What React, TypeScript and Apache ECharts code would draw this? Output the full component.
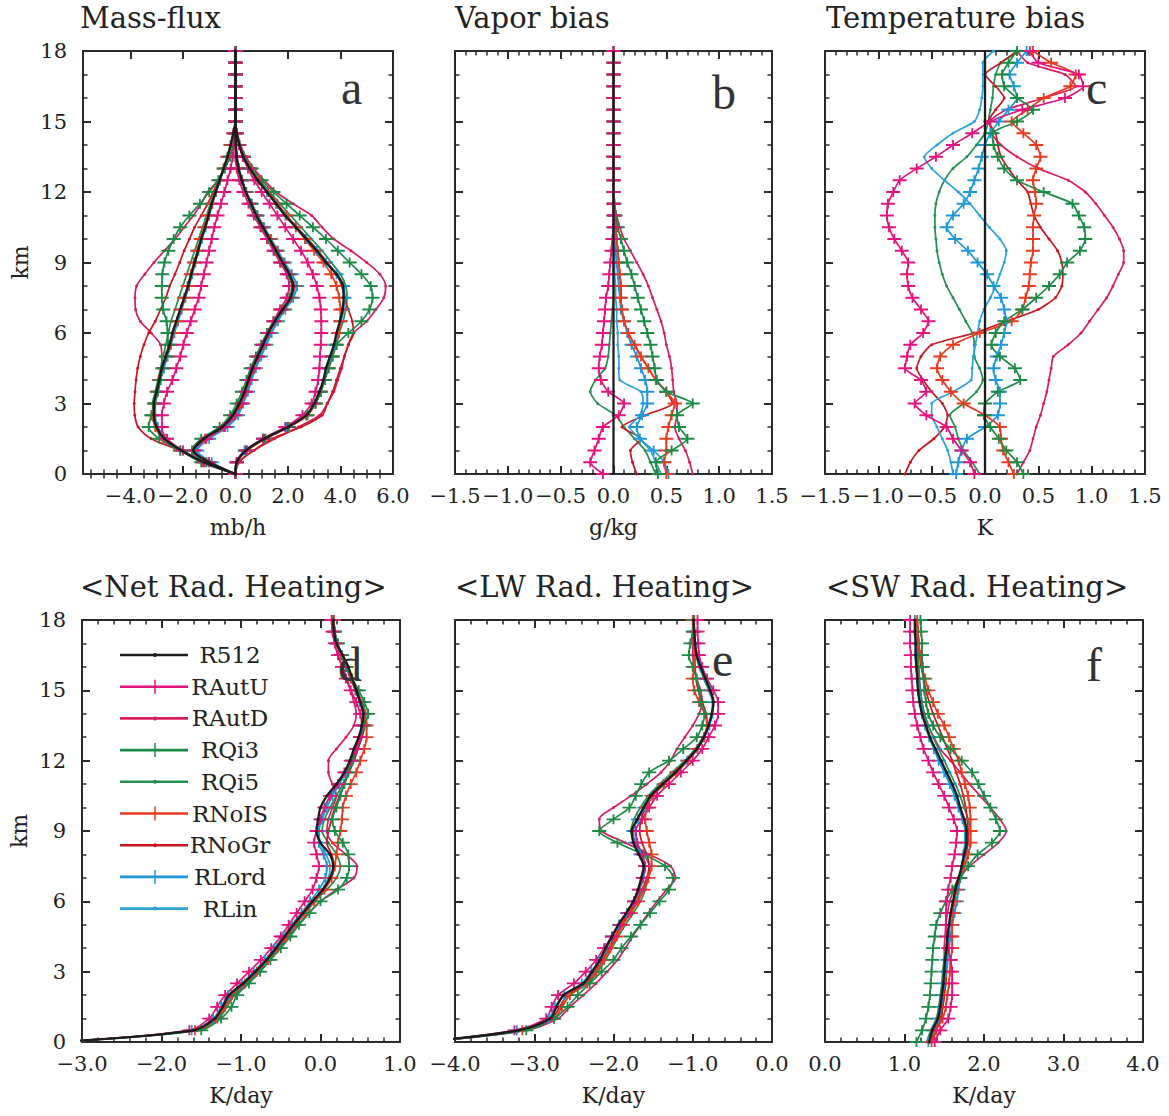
import React, { useEffect, useRef } from 'react';
import * as echarts from 'echarts';

// ---------- heights (km) ----------
const KM = [0,0.5,1,1.5,2,2.5,3,3.5,4,4.5,5,5.5,6,6.5,7,7.5,8,8.5,9,9.5,10,10.5,11,11.5,12,12.5,13,13.5,14,14.5,15,15.5,16,16.5,17,17.5,18];

const SERIES_NAMES = ['R512','RAutU','RAutD','RQi3','RQi5','RNoIS','RNoGr','RLord','RLin'];
const SERIES_COLORS = ['#1c1c1c','#e2137c','#d61f5e','#1b8a47','#24904f','#ea3a1f','#c8171f','#1e97d7','#2ba2de'];
const SERIES_PLUS = [false,true,false,true,false,true,false,true,false];

// ---------- (a) Mass-flux, mb/h : updraft branch ----------
const upR512 = [0,0.05,0.4,1.1,2.0,2.7,3.0,3.2,3.35,3.45,3.6,3.75,3.85,3.98,4.08,4.12,4.1,3.85,3.45,3.1,2.7,2.3,1.9,1.55,1.2,0.85,0.55,0.3,0.15,0.05,0,0,0,0,0,0,0];
const upRAutU = [0,0.05,0.4,1.05,1.9,2.55,2.9,3.05,3.15,3.2,3.22,3.25,3.27,3.27,3.25,3.2,3.1,2.95,2.75,2.5,2.2,1.9,1.6,1.3,1.0,0.72,0.48,0.28,0.13,0.05,0,0,0,0,0,0,0];
const upRAutD = [0,0.15,0.7,1.5,2.4,3.2,3.5,3.75,3.9,4.05,4.15,4.3,4.5,5.0,5.35,5.65,5.72,5.5,5.0,4.4,3.75,3.3,2.9,2.2,1.55,1.1,0.7,0.4,0.2,0.08,0,0,0,0,0,0,0];
const upRQi3 = [0,0.05,0.4,1.1,2.0,2.7,3.05,3.25,3.4,3.55,3.7,3.85,4.3,4.8,5.1,5.22,5.15,4.8,4.35,3.9,3.45,2.95,2.45,1.95,1.45,1.0,0.62,0.32,0.15,0.05,0,0,0,0,0,0,0];
const upRQi5 = [0,0.05,0.4,1.1,2.0,2.7,3.0,3.2,3.35,3.5,3.65,3.8,3.95,4.1,4.2,4.25,4.2,4.0,3.65,3.3,2.9,2.5,2.1,1.7,1.3,0.95,0.62,0.35,0.17,0.06,0,0,0,0,0,0,0];
const upRNoIS = [0,0.05,0.45,1.15,2.05,2.75,3.05,3.25,3.4,3.55,3.7,3.85,3.95,4.0,4.0,3.95,3.85,3.65,3.35,3.0,2.65,2.3,1.95,1.6,1.25,0.9,0.58,0.33,0.15,0.05,0,0,0,0,0,0,0];
const upRNoGr = [0,0.1,0.7,1.4,2.5,3.3,3.5,3.7,3.85,4.0,4.15,4.3,4.5,4.45,4.3,4.15,4.05,3.85,3.5,3.15,2.75,2.35,1.95,1.6,1.25,0.9,0.58,0.32,0.15,0.05,0,0,0,0,0,0,0];
const upRLord = [0,0.05,0.35,1.05,1.95,2.7,3.05,3.25,3.4,3.5,3.65,3.8,3.9,4.0,4.1,4.15,4.1,3.85,3.45,3.1,2.7,2.3,1.9,1.55,1.2,0.85,0.55,0.3,0.15,0.05,0,0,0,0,0,0,0];
const upRLin = [0,0.05,0.4,1.1,2.0,2.7,3.02,3.22,3.36,3.46,3.62,3.77,3.9,4.02,4.12,4.16,4.12,3.88,3.48,3.12,2.72,2.32,1.92,1.56,1.21,0.86,0.55,0.3,0.15,0.05,0,0,0,0,0,0,0];

// ---------- (a) downdraft branch ----------
const dnR512 = [0,-1.2,-2.05,-2.7,-3.0,-3.1,-3.1,-3.0,-2.9,-2.8,-2.65,-2.5,-2.4,-2.25,-2.1,-1.95,-1.8,-1.68,-1.55,-1.42,-1.3,-1.15,-1.02,-0.9,-0.75,-0.6,-0.45,-0.3,-0.18,-0.08,0,0,0,0,0,0,0];
const dnRAutU = [0,-1.2,-2.0,-2.6,-2.8,-2.8,-2.72,-2.6,-2.4,-2.25,-2.1,-1.98,-1.85,-1.7,-1.55,-1.4,-1.3,-1.2,-1.1,-1.0,-0.9,-0.8,-0.68,-0.55,-0.42,-0.3,-0.18,-0.1,-0.05,-0.02,0,0,0,0,0,0,0];
const dnRAutD = [0,-1.2,-2.05,-2.7,-3.0,-3.1,-3.05,-2.95,-2.85,-2.8,-2.8,-2.85,-3.2,-3.62,-3.8,-3.82,-3.76,-3.45,-3.1,-2.7,-2.3,-1.95,-1.6,-1.3,-1.05,-0.66,-0.4,-0.22,-0.1,-0.04,0,0,0,0,0,0,0];
const dnRQi3 = [0,-1.3,-2.1,-2.9,-3.3,-3.2,-3.07,-2.95,-2.85,-2.75,-2.65,-2.56,-2.58,-2.62,-2.75,-2.8,-2.8,-2.78,-2.7,-2.55,-2.35,-2.1,-1.75,-1.35,-1.0,-0.65,-0.4,-0.2,-0.08,-0.03,0,0,0,0,0,0,0];
const dnRQi5 = [0,-1.2,-2.05,-2.75,-3.05,-3.15,-3.15,-3.05,-2.95,-2.85,-2.75,-2.65,-2.55,-2.45,-2.3,-2.15,-2.0,-1.85,-1.7,-1.55,-1.4,-1.25,-1.1,-0.95,-0.8,-0.62,-0.45,-0.3,-0.17,-0.07,0,0,0,0,0,0,0];
const dnRNoIS = [0,-1.25,-2.1,-2.75,-3.05,-3.15,-3.1,-3.0,-2.9,-2.78,-2.62,-2.48,-2.36,-2.22,-2.08,-1.95,-1.82,-1.7,-1.58,-1.45,-1.32,-1.18,-1.04,-0.9,-0.75,-0.6,-0.45,-0.3,-0.18,-0.08,0,0,0,0,0,0,0];
const dnRNoGr = [0,-1.1,-2.1,-3.2,-3.7,-3.83,-3.85,-3.82,-3.78,-3.72,-3.62,-3.48,-3.3,-3.05,-2.85,-2.65,-2.5,-2.3,-2.12,-1.95,-1.75,-1.55,-1.3,-1.05,-0.85,-0.62,-0.45,-0.3,-0.17,-0.07,0,0,0,0,0,0,0];
const dnRLord = [0,-1.15,-2.0,-2.65,-2.95,-3.05,-3.05,-2.95,-2.85,-2.72,-2.58,-2.45,-2.32,-2.18,-2.04,-1.9,-1.76,-1.64,-1.52,-1.4,-1.27,-1.13,-1.0,-0.87,-0.73,-0.58,-0.44,-0.3,-0.18,-0.08,0,0,0,0,0,0,0];
const dnRLin = [0,-1.2,-2.05,-2.7,-3.0,-3.1,-3.08,-2.98,-2.88,-2.78,-2.63,-2.5,-2.38,-2.23,-2.08,-1.94,-1.8,-1.67,-1.54,-1.41,-1.28,-1.14,-1.01,-0.88,-0.74,-0.59,-0.45,-0.3,-0.18,-0.08,0,0,0,0,0,0,0];

// ---------- (a) net branch ----------
const netR512 = [0,-1.0,-1.6,-1.2,-0.5,-0.1,0.15,0.35,0.5,0.65,0.85,1.05,1.25,1.5,1.8,2.1,2.2,2.05,1.8,1.55,1.3,1.05,0.8,0.6,0.4,0.25,0.12,0.05,0.02,0,0,0,0,0,0,0,0];
const netRAutU = [0,-1.0,-1.55,-1.1,-0.4,0.0,0.25,0.4,0.55,0.7,0.85,1.05,1.25,1.45,1.7,1.95,2.05,1.95,1.7,1.45,1.2,0.95,0.7,0.5,0.3,0.15,0.05,0,0,0,0,0,0,0,0,0,0];
const netRAutD = [0,-1.0,-1.6,-1.2,-0.5,-0.1,0.15,0.35,0.5,0.65,0.85,1.05,1.3,1.55,1.85,2.15,2.25,2.1,1.85,1.6,1.35,1.1,0.85,0.62,0.42,0.26,0.13,0.05,0.02,0,0,0,0,0,0,0,0];
const netRQi3 = [0,-1.1,-1.65,-1.3,-0.6,-0.2,0.05,0.25,0.42,0.58,0.78,0.98,1.2,1.45,1.75,2.05,2.15,2.0,1.75,1.5,1.25,1.0,0.78,0.58,0.4,0.24,0.12,0.05,0.02,0,0,0,0,0,0,0,0];
const netRQi5 = [0,-1.05,-1.6,-1.2,-0.52,-0.12,0.12,0.32,0.48,0.63,0.83,1.03,1.23,1.48,1.78,2.08,2.18,2.03,1.78,1.53,1.28,1.03,0.8,0.6,0.4,0.25,0.12,0.05,0.02,0,0,0,0,0,0,0,0];
const netRNoIS = [0,-1.0,-1.58,-1.15,-0.45,-0.05,0.2,0.38,0.53,0.68,0.88,1.08,1.28,1.52,1.82,2.12,2.22,2.06,1.82,1.56,1.32,1.06,0.82,0.6,0.4,0.25,0.12,0.05,0.02,0,0,0,0,0,0,0,0];
const netRNoGr = [0,-0.95,-1.5,-1.1,-0.4,0.0,0.22,0.4,0.55,0.7,0.9,1.1,1.3,1.55,1.85,2.12,2.2,2.05,1.8,1.55,1.3,1.05,0.8,0.6,0.4,0.25,0.12,0.05,0.02,0,0,0,0,0,0,0,0];
const netRLord = [0,-0.9,-1.45,-1.0,-0.3,0.1,0.3,0.48,0.62,0.78,0.98,1.18,1.38,1.62,1.9,2.2,2.35,2.15,1.88,1.62,1.36,1.1,0.85,0.63,0.42,0.26,0.13,0.05,0.02,0,0,0,0,0,0,0,0];
const netRLin = [0,-0.95,-1.5,-1.1,-0.4,0.05,0.25,0.42,0.57,0.72,0.92,1.12,1.32,1.56,1.85,2.15,2.28,2.1,1.84,1.58,1.33,1.08,0.83,0.62,0.41,0.25,0.12,0.05,0.02,0,0,0,0,0,0,0,0];

// ---------- (b) Vapor bias, g/kg ----------
const biasRefX = [0, 0];
const biasRefKm = [0, 18];
const qRAutU = [-0.1,-0.22,-0.18,-0.14,-0.1,0.05,0.1,-0.05,-0.12,-0.14,-0.13,-0.11,-0.1,-0.09,-0.08,-0.07,-0.05,-0.04,-0.03,-0.02,-0.01,0,0,0,0,0,0,0,0,0,0,0,0,0,0,0,0];
const qRAutD = [0.75,0.72,0.68,0.62,0.58,0.6,0.6,0.57,0.56,0.55,0.53,0.5,0.48,0.45,0.41,0.37,0.33,0.28,0.22,0.16,0.1,0.06,0.03,0.01,0,0,0,0,0,0,0,0,0,0,0,0,0];
const qRQi3 = [0.42,0.4,0.55,0.7,0.62,0.6,0.75,0.5,0.41,0.39,0.37,0.35,0.32,0.29,0.26,0.23,0.2,0.17,0.13,0.1,0.07,0.04,0.02,0.01,0,0,0,0,0,0,0,0,0,0,0,0,0];
const qRQi5 = [0.4,0.35,0.3,0.2,0.1,0.02,-0.15,-0.22,-0.17,-0.08,-0.05,-0.04,-0.03,-0.02,-0.01,0,0,0,0,0,0,0,0,0,0,0,0,0,0,0,0,0,0,0,0,0,0];
const qRNoIS = [0.5,0.48,0.5,0.5,0.52,0.55,0.58,0.5,0.4,0.33,0.26,0.2,0.14,0.1,0.08,0.07,0.07,0.06,0.05,0.04,0.03,0.02,0.01,0,0,0,0,0,0,0,0,0,0,0,0,0,0];
const qRNoGr = [0.22,0.18,0.16,0.26,0.08,0.3,0.56,0.5,0.4,0.33,0.26,0.2,0.14,0.1,0.08,0.07,0.07,0.06,0.05,0.04,0.03,0.02,0.01,0,0,0,0,0,0,0,0,0,0,0,0,0,0];
const qRLord = [0.52,0.48,0.38,0.25,0.22,0.27,0.32,0.32,0.3,0.26,0.22,0.17,0.13,0.1,0.07,0.06,0.05,0.04,0.03,0.02,0.01,0,0,0,0,0,0,0,0,0,0,0,0,0,0,0,0];
const qRLin = [0.45,0.4,0.35,0.25,0.15,0.25,0.28,0.26,0.06,0.05,0.05,0.04,0.04,0.03,0.03,0.02,0.02,0.01,0.01,0.01,0,0,0,0,0,0,0,0,0,0,0,0,0,0,0,0,0];

// ---------- (c) Temperature bias, K ----------
const tRAutU = [-0.1,-0.14,-0.22,-0.3,-0.36,-0.55,-0.66,-0.55,-0.6,-0.75,-0.73,-0.7,-0.58,-0.53,-0.6,-0.68,-0.72,-0.73,-0.72,-0.78,-0.85,-0.9,-0.92,-0.91,-0.86,-0.8,-0.64,-0.46,-0.3,-0.12,0.05,0.35,0.75,0.92,0.88,0.5,0.42];
const tRAutD = [0.3,0.36,0.42,0.45,0.48,0.52,0.55,0.58,0.6,0.62,0.64,0.78,0.9,0.98,1.06,1.14,1.2,1.25,1.3,1.3,1.26,1.2,1.12,1.04,0.94,0.78,0.5,0.3,0.15,0.06,0.05,0.2,0.55,0.85,0.75,0.4,0.3];
const tRQi3 = [0.36,0.3,0.2,0.13,0.05,-0.01,0.0,0.12,0.33,0.28,0.14,0.06,0.1,0.18,0.35,0.48,0.6,0.7,0.77,0.89,0.94,0.93,0.88,0.82,0.55,0.3,0.18,0.12,0.08,0.07,0.3,0.45,0.3,0.18,0.16,0.22,0.3];
const tRQi5 = [-0.05,-0.12,-0.2,-0.25,-0.28,-0.33,-0.2,-0.08,-0.02,-0.05,-0.1,-0.1,-0.12,-0.18,-0.24,-0.3,-0.36,-0.4,-0.43,-0.45,-0.46,-0.47,-0.47,-0.46,-0.43,-0.38,-0.3,-0.17,-0.08,0.0,0.03,0.05,0.07,0.08,0.1,0.15,0.33];
const tRNoIS = [0.27,0.22,0.17,0.15,0.14,0.0,-0.2,-0.32,-0.4,-0.45,-0.42,-0.3,-0.05,0.25,0.35,0.38,0.41,0.42,0.43,0.45,0.45,0.45,0.46,0.48,0.47,0.45,0.48,0.52,0.48,0.36,0.25,0.4,0.55,0.8,0.85,0.62,0.45];
const tRNoGr = [-0.75,-0.7,-0.62,-0.48,-0.38,-0.35,-0.4,-0.5,-0.58,-0.64,-0.6,-0.5,-0.1,0.2,0.5,0.66,0.72,0.73,0.72,0.68,0.6,0.52,0.46,0.43,0.4,0.3,0.22,0.15,0.12,0.1,0.03,0.1,0.18,0.1,0.0,0.15,0.3];
const tRLord = [-0.27,-0.25,-0.22,-0.17,0.0,0.12,0.14,0.14,0.1,0.08,0.11,0.15,0.18,0.2,0.18,0.15,0.08,0.02,-0.07,-0.16,-0.28,-0.36,-0.3,-0.2,-0.14,-0.1,-0.06,-0.03,0.0,0.05,0.13,0.22,0.3,0.27,0.23,0.3,0.39];
const tRLin = [-0.3,-0.32,-0.35,-0.4,-0.45,-0.5,-0.5,-0.3,-0.13,-0.12,-0.11,-0.09,-0.07,-0.05,-0.01,0.05,0.1,0.14,0.18,0.2,0.14,0.04,-0.05,-0.14,-0.25,-0.38,-0.5,-0.57,-0.45,-0.3,-0.1,-0.05,-0.03,-0.02,-0.02,-0.02,0.08];

// ---------- (d) <Net Rad. Heating>, K/day ----------
const rnR512 = [-3.3,-1.6,-1.33,-1.23,-1.15,-0.97,-0.82,-0.68,-0.56,-0.45,-0.34,-0.22,-0.1,0.03,0.12,0.16,0.12,0.0,-0.05,-0.03,0.0,0.08,0.2,0.3,0.37,0.42,0.48,0.52,0.54,0.5,0.45,0.4,0.35,0.28,0.2,0.17,0.16];
const rnRAutU = [-3.3,-1.65,-1.4,-1.3,-1.2,-1.05,-0.9,-0.75,-0.62,-0.5,-0.4,-0.3,-0.2,-0.1,-0.05,-0.02,-0.05,-0.08,-0.05,0.0,0.05,0.12,0.22,0.3,0.38,0.45,0.5,0.52,0.5,0.45,0.38,0.32,0.27,0.22,0.18,0.15,0.14];
const rnRAutD = [-3.3,-1.55,-1.3,-1.18,-1.08,-0.92,-0.78,-0.64,-0.52,-0.4,-0.28,-0.15,0.0,0.2,0.42,0.46,0.32,0.15,0.08,0.1,0.15,0.2,0.15,0.1,0.1,0.2,0.32,0.42,0.45,0.42,0.38,0.33,0.28,0.22,0.18,0.15,0.14];
const rnRQi3 = [-3.3,-1.5,-1.25,-1.12,-1.05,-0.9,-0.76,-0.63,-0.5,-0.38,-0.27,-0.14,0.0,0.22,0.33,0.36,0.35,0.28,0.18,0.15,0.2,0.25,0.3,0.35,0.4,0.45,0.5,0.55,0.6,0.55,0.48,0.4,0.33,0.27,0.22,0.18,0.16];
const rnRQi5 = [-3.3,-1.55,-1.28,-1.18,-1.1,-0.93,-0.79,-0.65,-0.53,-0.42,-0.31,-0.19,-0.07,0.08,0.2,0.25,0.2,0.1,0.02,0.05,0.12,0.2,0.28,0.35,0.42,0.47,0.52,0.56,0.57,0.52,0.46,0.4,0.34,0.27,0.21,0.18,0.17];
const rnRNoIS = [-3.3,-1.58,-1.3,-1.2,-1.12,-0.95,-0.8,-0.66,-0.54,-0.43,-0.32,-0.2,-0.08,0.05,0.14,0.18,0.2,0.22,0.25,0.27,0.28,0.32,0.38,0.45,0.5,0.55,0.58,0.58,0.55,0.5,0.44,0.38,0.32,0.26,0.21,0.18,0.17];
const rnRNoGr = [-3.3,-1.6,-1.32,-1.22,-1.13,-0.96,-0.81,-0.67,-0.55,-0.44,-0.33,-0.21,-0.09,0.04,0.13,0.17,0.14,0.08,0.1,0.14,0.18,0.24,0.3,0.36,0.42,0.47,0.52,0.55,0.54,0.5,0.44,0.38,0.32,0.26,0.2,0.17,0.16];
const rnRLord = [-3.3,-1.62,-1.35,-1.25,-1.16,-0.99,-0.84,-0.7,-0.58,-0.47,-0.36,-0.24,-0.13,-0.02,0.06,0.08,0.04,-0.02,-0.02,0.02,0.08,0.15,0.24,0.32,0.4,0.45,0.5,0.53,0.53,0.49,0.44,0.38,0.32,0.26,0.2,0.17,0.16];
const rnRLin = [-3.3,-1.6,-1.33,-1.23,-1.14,-0.97,-0.82,-0.68,-0.56,-0.45,-0.34,-0.22,-0.1,0.02,0.1,0.12,0.07,0.0,-0.02,0.0,0.05,0.13,0.23,0.31,0.38,0.44,0.49,0.53,0.54,0.5,0.45,0.39,0.33,0.27,0.2,0.17,0.16];

// ---------- (e) <LW Rad. Heating>, K/day ----------
const lwR512 = [-4.4,-3.2,-2.8,-2.72,-2.63,-2.38,-2.27,-2.17,-2.1,-2.02,-1.94,-1.84,-1.75,-1.69,-1.65,-1.62,-1.68,-1.75,-1.77,-1.7,-1.62,-1.53,-1.38,-1.22,-1.08,-0.95,-0.86,-0.8,-0.76,-0.74,-0.78,-0.84,-0.9,-0.95,-0.97,-0.98,-0.99];
const lwRAutU = [-4.4,-3.25,-2.85,-2.78,-2.7,-2.5,-2.35,-2.22,-2.12,-2.02,-1.92,-1.82,-1.74,-1.68,-1.63,-1.6,-1.64,-1.7,-1.72,-1.64,-1.55,-1.45,-1.3,-1.15,-1.0,-0.88,-0.8,-0.72,-0.68,-0.68,-0.74,-0.82,-0.88,-0.92,-0.93,-0.94,-0.94];
const lwRAutD = [-4.4,-3.1,-2.7,-2.55,-2.38,-2.22,-2.08,-1.95,-1.85,-1.76,-1.66,-1.56,-1.45,-1.33,-1.22,-1.28,-1.55,-1.85,-2.15,-2.18,-2.0,-1.78,-1.58,-1.4,-1.28,-1.2,-1.1,-1.0,-0.92,-0.88,-0.9,-0.95,-0.98,-1.0,-1.0,-1.0,-1.0];
const lwRQi3 = [-4.4,-3.1,-2.75,-2.58,-2.45,-2.3,-2.15,-2.0,-1.9,-1.78,-1.66,-1.54,-1.42,-1.3,-1.25,-1.35,-1.62,-1.95,-2.18,-2.0,-1.8,-1.72,-1.65,-1.55,-1.3,-1.12,-0.95,-0.88,-0.85,-0.9,-0.92,-0.95,-1.0,-1.05,-1.03,-1.0,-0.98];
const lwRQi5 = [-4.4,-3.15,-2.75,-2.65,-2.55,-2.32,-2.2,-2.1,-2.02,-1.94,-1.85,-1.75,-1.66,-1.6,-1.56,-1.55,-1.62,-1.72,-1.78,-1.74,-1.66,-1.56,-1.42,-1.26,-1.1,-0.97,-0.87,-0.8,-0.76,-0.75,-0.8,-0.86,-0.92,-0.96,-0.98,-0.99,-1.0];
const lwRNoIS = [-4.4,-3.15,-2.75,-2.65,-2.55,-2.33,-2.22,-2.12,-2.04,-1.96,-1.88,-1.78,-1.69,-1.62,-1.56,-1.52,-1.52,-1.55,-1.58,-1.6,-1.58,-1.5,-1.36,-1.2,-1.06,-0.94,-0.86,-0.82,-0.85,-0.92,-0.98,-1.0,-0.98,-0.97,-0.98,-0.99,-1.0];
const lwRNoGr = [-4.4,-3.18,-2.78,-2.68,-2.58,-2.35,-2.24,-2.14,-2.06,-1.98,-1.9,-1.8,-1.71,-1.64,-1.58,-1.55,-1.58,-1.64,-1.67,-1.65,-1.6,-1.52,-1.38,-1.22,-1.07,-0.95,-0.87,-0.82,-0.83,-0.88,-0.93,-0.96,-0.97,-0.98,-0.98,-0.99,-1.0];
const lwRLord = [-4.4,-3.22,-2.82,-2.74,-2.62,-2.4,-2.28,-2.18,-2.1,-2.02,-1.93,-1.83,-1.74,-1.67,-1.62,-1.6,-1.66,-1.73,-1.75,-1.69,-1.61,-1.52,-1.37,-1.21,-1.07,-0.94,-0.85,-0.79,-0.75,-0.74,-0.78,-0.84,-0.9,-0.95,-0.97,-0.98,-0.99];
const lwRLin = [-4.4,-3.2,-2.8,-2.72,-2.62,-2.38,-2.27,-2.17,-2.09,-2.01,-1.93,-1.83,-1.74,-1.68,-1.64,-1.61,-1.67,-1.74,-1.76,-1.7,-1.62,-1.53,-1.38,-1.22,-1.08,-0.95,-0.86,-0.8,-0.76,-0.74,-0.78,-0.84,-0.9,-0.95,-0.97,-0.98,-0.99];

// ---------- (f) <SW Rad. Heating>, K/day ----------
const swR512 = [1.31,1.35,1.42,1.45,1.47,1.49,1.5,1.51,1.53,1.54,1.56,1.58,1.61,1.64,1.68,1.72,1.75,1.78,1.78,1.75,1.7,1.66,1.6,1.53,1.46,1.39,1.32,1.27,1.22,1.19,1.17,1.16,1.15,1.14,1.14,1.13,1.13];
const swRAutU = [1.38,1.45,1.55,1.58,1.6,1.6,1.6,1.58,1.55,1.53,1.52,1.52,1.53,1.55,1.58,1.6,1.63,1.65,1.66,1.62,1.56,1.5,1.43,1.36,1.3,1.24,1.2,1.16,1.13,1.11,1.1,1.09,1.08,1.08,1.07,1.07,1.07];
const swRAutD = [1.35,1.4,1.46,1.48,1.5,1.5,1.5,1.5,1.5,1.51,1.52,1.54,1.57,1.62,1.68,1.82,2.0,2.18,2.28,2.2,2.08,1.95,1.82,1.7,1.58,1.45,1.37,1.3,1.25,1.22,1.2,1.18,1.17,1.16,1.15,1.15,1.15];
const swRQi3 = [1.15,1.22,1.27,1.3,1.32,1.33,1.34,1.35,1.36,1.38,1.4,1.45,1.52,1.6,1.7,1.8,1.92,2.1,2.2,2.15,2.08,2.0,1.93,1.85,1.72,1.58,1.45,1.36,1.3,1.27,1.25,1.24,1.23,1.22,1.22,1.21,1.2];
const swRQi5 = [1.28,1.33,1.4,1.43,1.45,1.47,1.48,1.5,1.52,1.54,1.56,1.59,1.62,1.66,1.71,1.76,1.8,1.83,1.83,1.8,1.75,1.7,1.64,1.57,1.5,1.43,1.36,1.3,1.25,1.22,1.2,1.19,1.18,1.17,1.17,1.16,1.16];
const swRNoIS = [1.34,1.4,1.48,1.52,1.54,1.56,1.57,1.58,1.6,1.6,1.6,1.61,1.63,1.66,1.7,1.75,1.8,1.83,1.83,1.83,1.82,1.8,1.76,1.72,1.68,1.62,1.56,1.5,1.42,1.36,1.3,1.26,1.22,1.2,1.18,1.17,1.16];
const swRNoGr = [1.33,1.38,1.45,1.48,1.5,1.52,1.53,1.54,1.55,1.56,1.57,1.59,1.62,1.65,1.69,1.73,1.77,1.8,1.8,1.79,1.77,1.74,1.7,1.65,1.6,1.54,1.48,1.42,1.36,1.31,1.27,1.24,1.21,1.19,1.18,1.17,1.16];
const swRLord = [1.3,1.36,1.43,1.46,1.48,1.5,1.52,1.54,1.56,1.58,1.6,1.63,1.66,1.68,1.7,1.72,1.74,1.76,1.76,1.73,1.68,1.63,1.57,1.5,1.43,1.37,1.31,1.26,1.22,1.19,1.17,1.16,1.15,1.14,1.14,1.13,1.13];
const swRLin = [1.31,1.35,1.42,1.45,1.47,1.49,1.5,1.52,1.54,1.55,1.57,1.59,1.62,1.65,1.69,1.73,1.76,1.78,1.78,1.75,1.7,1.65,1.59,1.52,1.45,1.38,1.32,1.27,1.23,1.2,1.18,1.16,1.15,1.14,1.14,1.13,1.13];

// ---------- axis tick labels ----------
const MASS_TICKS = [-4, -2, 0, 2, 4, 6];
const MASS_MINOR = [-5.5,-5,-4.5,-3.5,-3,-2.5,-1.5,-1,-0.5,0.5,1,1.5,2.5,3,3.5,4.5,5,5.5];
const PANEL_TITLES = ['Mass-flux', 'Vapor bias', 'Temperature bias', '<Net Rad. Heating>', '<LW Rad. Heating>', '<SW Rad. Heating>'];
const PANEL_UNITS = ['mb/h', 'g/kg', 'K', 'K/day', 'K/day', 'K/day'];
const PANEL_LETTERS = ['a', 'b', 'c', 'd', 'e', 'f'];

// ---------- tables built from the arrays ----------
const MASS_SETS = [
  [upR512, upRAutU, upRAutD, upRQi3, upRQi5, upRNoIS, upRNoGr, upRLord, upRLin],
  [dnR512, dnRAutU, dnRAutD, dnRQi3, dnRQi5, dnRNoIS, dnRNoGr, dnRLord, dnRLin],
  [netR512, netRAutU, netRAutD, netRQi3, netRQi5, netRNoIS, netRNoGr, netRLord, netRLin],
];
const VAPOR_SET = [null, qRAutU, qRAutD, qRQi3, qRQi5, qRNoIS, qRNoGr, qRLord, qRLin];
const TEMP_SET = [null, tRAutU, tRAutD, tRQi3, tRQi5, tRNoIS, tRNoGr, tRLord, tRLin];
const NETRAD_SET = [rnR512, rnRAutU, rnRAutD, rnRQi3, rnRQi5, rnRNoIS, rnRNoGr, rnRLord, rnRLin];
const LW_SET = [lwR512, lwRAutU, lwRAutD, lwRQi3, lwRQi5, lwRNoIS, lwRNoGr, lwRLord, lwRLin];
const SW_SET = [swR512, swRAutU, swRAutD, swRQi3, swRQi5, swRNoIS, swRNoGr, swRLord, swRLin];

const FONT = 'DejaVu Serif';
const INK = '#2a2a2a';
const PLUS_PATH = 'path://M0,4.1H6.1V0H7.9V4.1H14V5.9H7.9V10H6.1V5.9H0Z';

const GRIDS = [
  { left: 83, top: 51, width: 310, height: 423 },
  { left: 455, top: 51, width: 317, height: 423 },
  { left: 825, top: 51, width: 320, height: 423 },
  { left: 82, top: 620, width: 318, height: 422 },
  { left: 455, top: 620, width: 317, height: 422 },
  { left: 825, top: 620, width: 318, height: 422 },
];

const fmt1 = (v: number) => (v < 0 ? '\u2212' : '') + Math.abs(v).toFixed(1);

const AX_LINE = { show: true, onZero: false, lineStyle: { color: INK, width: 2 } };
const TICK = { show: true, inside: true, length: 8, lineStyle: { color: INK, width: 2 } };
const minor = (n: number) => ({ show: true, splitNumber: n, length: 4.5, lineStyle: { color: INK, width: 1.5 } });
const LABEL = { fontFamily: FONT, fontSize: 21, color: '#222' };
const NAME_STYLE = { fontFamily: FONT, fontSize: 22, color: '#222' };

function xPair(gi: number, min: number, max: number, interval: any, minorSplit: number, custom?: number[]) {
  const base: any = { type: 'value', gridIndex: gi, min, max, axisLine: AX_LINE, splitLine: { show: false } };
  if (interval) base.interval = interval;
  const tick = custom ? { ...TICK, customValues: custom } : TICK;
  const mt = minorSplit ? minor(minorSplit) : { show: false };
  return [
    {
      ...base, position: 'bottom', axisTick: tick, minorTick: mt,
      axisLabel: { ...LABEL, margin: 11, formatter: fmt1, ...(custom ? { customValues: custom } : {}) },
      name: PANEL_UNITS[gi], nameLocation: 'middle', nameGap: 42, nameTextStyle: NAME_STYLE,
    },
    { ...base, position: 'top', axisTick: tick, minorTick: mt, axisLabel: { show: false } },
  ];
}

function yPair(gi: number, labels: boolean) {
  const base: any = {
    type: 'value', gridIndex: gi, min: 0, max: 18, interval: 3,
    axisLine: AX_LINE, axisTick: TICK, minorTick: minor(3), splitLine: { show: false },
  };
  return [
    {
      ...base, position: 'left',
      axisLabel: labels ? { ...LABEL, margin: 16 } : { show: false },
      name: labels ? 'km' : '', nameLocation: 'middle', nameGap: 52, nameRotate: 90, nameTextStyle: NAME_STYLE,
    },
    { ...base, position: 'right', axisLabel: { show: false } },
  ];
}

function curve(gi: number, idx: number, xs: number[], kms: number[], smooth: number, noSymbol?: boolean) {
  const plus = SERIES_PLUS[idx];
  const color = SERIES_COLORS[idx];
  return {
    type: 'line',
    name: SERIES_NAMES[idx],
    xAxisIndex: gi * 2,
    yAxisIndex: gi * 2,
    data: xs.map((v, i) => [v, kms[i]]),
    smooth,
    showSymbol: !noSymbol,
    symbol: noSymbol ? 'none' : plus ? PLUS_PATH : 'circle',
    symbolSize: plus ? [14, 10] : 3,
    lineStyle: { color, width: idx === 0 ? 2.3 : 1.7 },
    itemStyle: { color },
    z: idx === 0 ? 6 : plus ? 5 : 4,
    silent: true,
    clip: true,
  };
}

function buildOption() {
  const xAxis: any[] = [];
  const yAxis: any[] = [];
  xAxis.push(...xPair(0, -5.8, 6.0, null, 0, MASS_TICKS));
  xAxis.push(...xPair(1, -1.5, 1.5, 0.5, 5));
  xAxis.push(...xPair(2, -1.5, 1.5, 0.5, 5));
  xAxis.push(...xPair(3, -3, 1, 1, 5));
  xAxis.push(...xPair(4, -4, 0, 1, 5));
  xAxis.push(...xPair(5, 0, 4, 1, 5));
  // minor ticks for the mass-flux panel (bottom & top)
  ['bottom', 'top'].forEach((pos) => {
    xAxis.push({
      type: 'value', gridIndex: 0, position: pos, min: -5.8, max: 6.0,
      axisLine: { show: false }, axisLabel: { show: false }, splitLine: { show: false },
      axisTick: { show: true, inside: true, length: 4.5, customValues: MASS_MINOR, lineStyle: { color: INK, width: 1.5 } },
    });
  });
  for (let g = 0; g < 6; g++) yAxis.push(...yPair(g, g === 0 || g === 3));

  const series: any[] = [];
  const order = [2, 4, 6, 8, 7, 5, 3, 1, 0];
  MASS_SETS.forEach((set) => order.forEach((i) => series.push(curve(0, i, set[i], KM, 0.3))));
  [[1, VAPOR_SET], [2, TEMP_SET]].forEach(([g, set]: any) => {
    order.forEach((i) => {
      if (i === 0) series.push(curve(g, 0, biasRefX, biasRefKm, 0, true));
      else series.push(curve(g, i, set[i], KM, 0.2));
    });
  });
  [[3, NETRAD_SET], [4, LW_SET], [5, SW_SET]].forEach(([g, set]: any) => {
    order.forEach((i) => series.push(curve(g, i, set[i], KM, 0.3)));
  });

  const title = PANEL_TITLES.map((t, i) => ({
    text: t,
    left: [80, 455, 826, 80, 455, 826][i],
    top: i < 3 ? 3 : 572,
    padding: 0,
    textStyle: { fontFamily: FONT, fontSize: 29, fontWeight: 'normal', color: '#222' },
  }));

  const graphic: any[] = [];
  const letterPos = [[341, 87], [712, 92], [1086, 87], [338, 664], [712, 659], [1086, 664]];
  PANEL_LETTERS.forEach((l, i) => {
    graphic.push({
      type: 'text', x: letterPos[i][0], y: letterPos[i][1], z: 100,
      style: { text: l, fontFamily: 'Liberation Serif', fontSize: 48, fill: '#333', verticalAlign: 'middle', align: 'left' },
    });
  });
  // legend (panel d)
  SERIES_NAMES.forEach((n, i) => {
    const y = 655 + i * 31.7;
    const c = SERIES_COLORS[i];
    graphic.push({ type: 'line', z: 100, shape: { x1: 120, y1: y, x2: 188, y2: y }, style: { stroke: c, lineWidth: 2.6 } });
    if (SERIES_PLUS[i]) {
      graphic.push({ type: 'line', z: 100, shape: { x1: 155, y1: y - 7, x2: 155, y2: y + 7 }, style: { stroke: c, lineWidth: 1.5 } });
    } else {
      graphic.push({ type: 'circle', z: 100, shape: { cx: 155, cy: y, r: 2 }, style: { fill: c } });
    }
    graphic.push({
      type: 'text', x: 230, y, z: 100,
      style: { text: n, fontFamily: FONT, fontSize: 23, fill: '#222', align: 'center', verticalAlign: 'middle' },
    });
  });

  return {
    animation: false,
    backgroundColor: '#ffffff',
    title,
    grid: GRIDS.map((g) => ({ ...g, containLabel: false })),
    xAxis,
    yAxis,
    series,
    graphic,
  };
}

export default function App() {
  const ref = useRef<HTMLDivElement>(null);
  useEffect(() => {
    if (!ref.current) return;
    const chart = echarts.init(ref.current, null, { renderer: 'svg' });
    chart.setOption(buildOption() as any);
    return () => chart.dispose();
  }, []);
  return (
    <div
      ref={ref}
      style={{ position: 'absolute', left: 0, top: 0, width: 1169, height: 1116, background: '#fff' }}
    />
  );
}
